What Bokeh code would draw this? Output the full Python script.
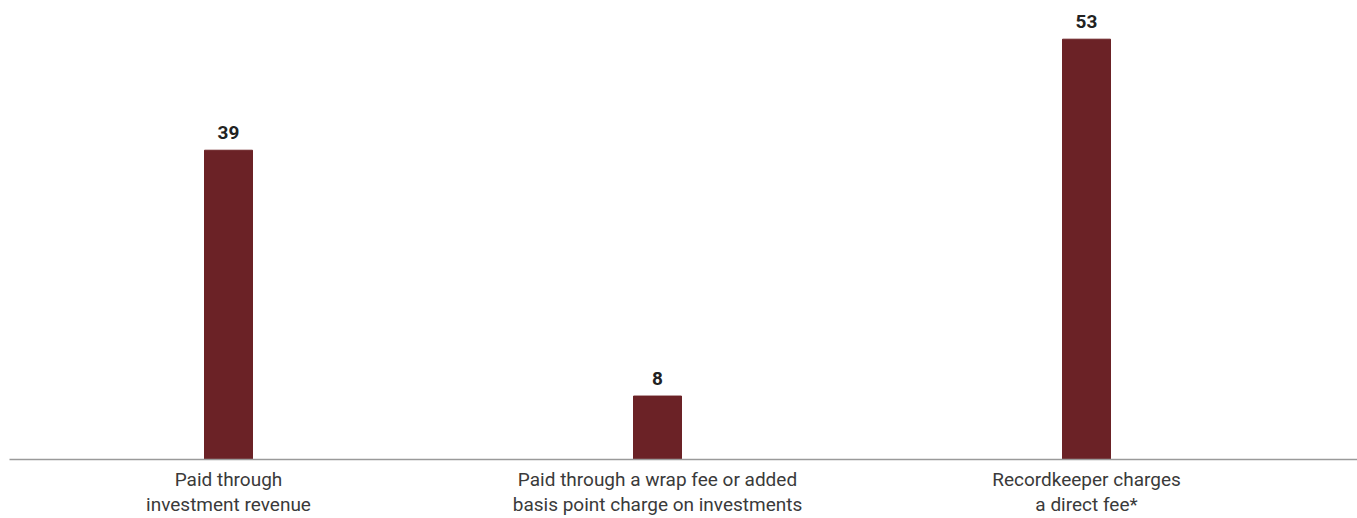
from bokeh.plotting import figure
from bokeh.models import ColumnDataSource, FixedTicker, Range1d
from bokeh.core.properties import value
from bokeh.embed import file_html
from bokeh.resources import INLINE

categories = ["Paid through\ninvestment revenue",
              "Paid through a wrap fee or added\nbasis point charge on investments",
              "Recordkeeper charges\na direct fee*"]
values = [39, 8, 53]
positions = [0, 1, 2]

src = ColumnDataSource(dict(x=positions, top=values, label=[str(v) for v in values]))

p = figure(frame_width=1348, frame_height=459, output_backend="svg", toolbar_location=None,
           x_range=Range1d(-0.5105, 2.6317), y_range=Range1d(0, 57.88),
           min_border_left=9, min_border_right=0, min_border_top=0, min_border_bottom=0)
p.outline_line_color = None
p.grid.visible = False
p.yaxis.visible = False

p.vbar(x="x", top="top", width=48/429, source=src, color="#6B2226")
p.text(x="x", y="top", text="label", source=src, text_align="center", text_baseline="bottom",
       y_offset=-11, text_font_size="19px", text_font_style="bold", text_color="#222222",
       text_font=value("Roboto"))

ax = p.xaxis[0]
ax.ticker = FixedTicker(ticks=positions)
ax.major_label_overrides = {i: c for i, c in zip(positions, categories)}
ax.major_tick_line_color = None
ax.minor_tick_line_color = None
ax.axis_line_color = "#9a9a9a"
ax.axis_line_width = 1.5
ax.major_label_text_font = "Roboto"
ax.major_label_text_font_size = "19px"
ax.major_label_text_color = "#3a3a3a"
ax.major_label_standoff = 2
ax.major_label_text_line_height = 1.12

open("out.html", "w").write(file_html(p, INLINE))
